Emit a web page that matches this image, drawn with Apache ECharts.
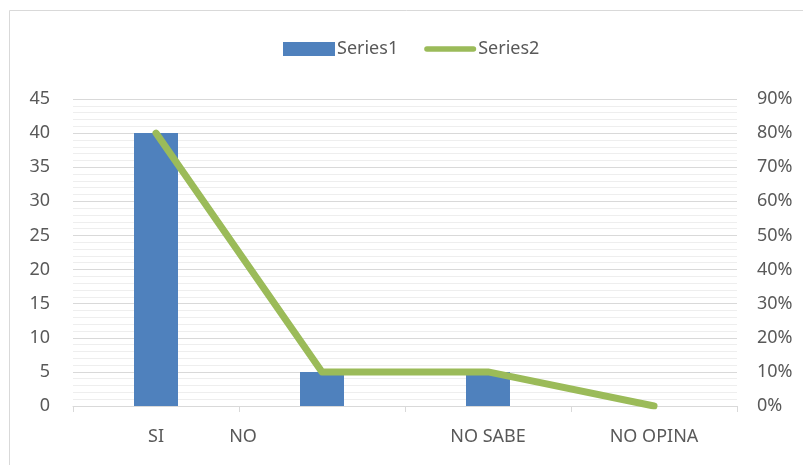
<!DOCTYPE html>
<html>
<head>
<meta charset="utf-8">
<script src="https://cdn.jsdelivr.net/npm/echarts@6/dist/echarts.min.js"></script>
<style>
  html, body { margin: 0; padding: 0; background: #fff; }
  #chart { width: 803px; height: 465px; }
</style>
</head>
<body>
<div id="chart"></div>
<script>
const categories = ['SI', 'NO', 'NO SABE', 'NO OPINA'];
const series1 = [40, 5, 5, 0];
const series2 = [0.8, 0.1, 0.1, 0];
const leftTicks = { min: 0, max: 45, interval: 5 };
const rightTicks = { min: 0, max: 0.9, interval: 0.1 };

const font = '"Liberation Sans Narrow", "Noto Sans", sans-serif';
const chart = echarts.init(document.getElementById('chart'));

const option = {
    animation: false,
    textStyle: { fontFamily: font },
    graphic: [{
        type: 'rect',
        shape: { x: 9.5, y: 10.5, width: 820, height: 480 },
        style: { fill: 'none', stroke: '#d9d9d9', lineWidth: 1 },
        silent: true
    }],
    legend: {
        top: 35,
        left: 278,
        itemGap: 26,
        itemWidth: 52,
        itemHeight: 14,
        textStyle: { color: '#595959', fontSize: 18, fontFamily: font, padding: [0, 0, 0, -3] },
        data: [
            { name: 'Series1', icon: 'rect' },
            { name: 'Series2', icon: 'path://M3,0 H54 A3,3 0 0 1 54,6 H3 A3,3 0 0 1 3,0 Z' }
        ]
    },
    grid: { left: 73, right: 66, top: 99, bottom: 59 },
    xAxis: {
        type: 'category',
        data: categories,
        axisLine: { lineStyle: { color: '#d9d9d9' } },
        axisTick: { show: true, length: 6, lineStyle: { color: '#d9d9d9' } },
        axisLabel: {
            color: '#595959',
            fontSize: 18,
            margin: 22,
            formatter: function (v, i) {
                return i === 1 ? '{off|' + v + '}' : v;
            },
            rich: {
                off: { color: '#595959', fontSize: 18, fontFamily: font, padding: [0, 158, 0, 0] }
            }
        }
    },
    yAxis: [
        {
            type: 'value',
            min: leftTicks.min,
            max: leftTicks.max,
            interval: leftTicks.interval,
            axisLine: { show: false },
            axisTick: { show: false },
            axisLabel: { color: '#595959', fontSize: 18, margin: 23 },
            splitLine: { lineStyle: { color: '#d9d9d9' } },
            minorTick: { show: false, splitNumber: 5 },
            minorSplitLine: { show: true, lineStyle: { color: '#eeeeee' } }
        },
        {
            type: 'value',
            min: rightTicks.min,
            max: rightTicks.max,
            interval: rightTicks.interval,
            axisLine: { show: false },
            axisTick: { show: false },
            splitLine: { show: false },
            axisLabel: {
                color: '#595959',
                fontSize: 18,
                margin: 20,
                formatter: v => Math.round(v * 100) + '%'
            }
        }
    ],
    series: [
        {
            name: 'Series1',
            type: 'bar',
            data: series1,
            barWidth: '26.5%',
            itemStyle: { color: '#4f81bd' }
        },
        {
            name: 'Series2',
            type: 'line',
            yAxisIndex: 1,
            data: series2,
            symbol: 'none',
            lineStyle: { color: '#9bbb59', width: 7, cap: 'round', join: 'round' },
            itemStyle: { color: '#9bbb59' }
        }
    ]
};
chart.setOption(option);
</script>
</body>
</html>
